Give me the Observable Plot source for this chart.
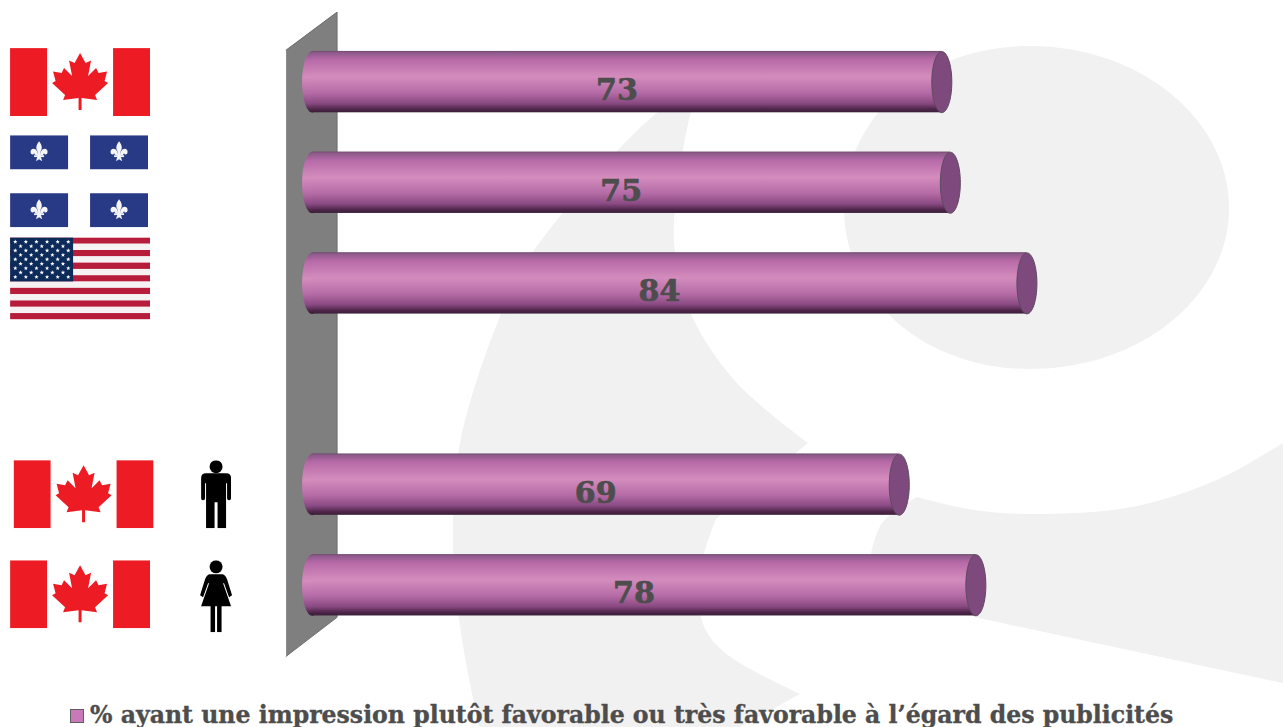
<!DOCTYPE html>
<html lang="fr">
<head>
<meta charset="utf-8">
<script src="https://cdn.jsdelivr.net/npm/d3@7"></script>
<script src="https://cdn.jsdelivr.net/npm/@observablehq/plot@0.6"></script>
<style>
  html, body { margin: 0; padding: 0; background: #fff; overflow: hidden; }
  #page { position: relative; width: 1283px; height: 727px; }
  #backdrop { position: absolute; left: 0; top: 0; }
  #chart { position: absolute; left: 0; top: 0; }
  #legend { position: absolute; left: 70px; top: 700px; height: 27px; line-height: 30px; white-space: nowrap;
    font-family: "DejaVu Serif", serif; font-weight: bold; font-size: 23.6px; color: #4d4d4d; -webkit-text-stroke: 0.35px #4d4d4d; }
  #legend i { display: inline-block; width: 12px; height: 12px; background: #c87ab8; border: 1.5px solid #5f5f5f; margin-right: 6px; vertical-align: 0; -webkit-text-stroke: 0; }
</style>
</head>
<body>
<div id="page">
  <svg id="backdrop" width="1283" height="727"></svg>
  <div id="chart"></div>
  <div id="legend"><i></i>% ayant une impression plutôt favorable ou très favorable à l’égard des publicités</div>
</div>
<script>
// ---- data ----
const categories = ["Canada", "Québec", "États-Unis", "Hommes (Canada)", "Femmes (Canada)"];
const rows = [0, 1, 2, 4, 5];
const labels = ["73", "75", "84", "69", "78"];
const barLengths = [74, 75, 84, 69, 78];
const wallX = [-3.05, 2.94, 2.94, -3.05];
const wallY = [-0.318, -0.696, 5.318, 5.706];

const table = categories.map((c, i) => ({category: c, row: rows[i], label: labels[i], length: barLengths[i]}));
const wall = wallX.map((x, i) => ({x, y: wallY[i]}));

// ---- flags and figures ----
const uri = (w, h, body) => "data:image/svg+xml," + encodeURIComponent(
  `<svg xmlns="http://www.w3.org/2000/svg" viewBox="0 0 ${w} ${h}" width="${w}" height="${h}" preserveAspectRatio="none">${body}</svg>`);

const canada = uri(140, 68, `<rect width="140" height="68" fill="#fff"/><rect width="37" height="68" fill="#ed1c24"/><rect x="103" width="37" height="68" fill="#ed1c24"/>
<polygon fill="#ed1c24" points="70,5 75.5,15 81,12.5 78,28 86,20 88.5,25 97,23.5 94.5,33 98,35 85,47 87,52 71.5,50 71.5,62 68.5,62 68.5,50 53,52 55,47 42,35 45.5,33 43,23.5 51.5,25 54,20 62,28 59,12.5 64.5,15"/>`);

const fleur = (cx, cy) => `<g transform="translate(${cx} ${cy})" fill="#f4f5f8">
<path d="M0-11C3-7 3.6-4 1.6-1L1.6 6L-1.6 6L-1.6-1C-3.6-4-3-7 0-11Z"/>
<path d="M2-1C4-5 9-4 8.5 0C8.3 2.5 5.5 3 5 1C4 3 2.5 3.5 1 3Z"/>
<path d="M-2-1C-4-5-9-4-8.5 0C-8.3 2.5-5.5 3-5 1C-4 3-2.5 3.5-1 3Z"/>
<rect x="-5" y="3" width="10" height="1.8"/><path d="M-2 5L2 5L3 9L0 7L-3 9Z"/></g>`;
const quebecPanes = [[0, 0], [80, 0], [0, 58], [80, 58]];
const quebec = uri(138, 92, `<rect width="138" height="92" fill="#fff"/>` + quebecPanes.map(([x, y]) =>
  `<rect x="${x}" y="${y}" width="58" height="34" fill="#283a85"/>${fleur(x + 29, y + 17)}`).join(""));

const star = (cx, cy, r) => {
  const p = d3.range(10).map(i => {
    const a = -Math.PI / 2 + i * Math.PI / 5, q = i % 2 ? r * 0.42 : r;
    return `${(cx + q * Math.cos(a)).toFixed(2)},${(cy + q * Math.sin(a)).toFixed(2)}`;
  });
  return `<polygon fill="#fff" points="${p.join(" ")}"/>`;
};
let stars = "";
for (let r = 0; r < 9; r++) {
  const n = r % 2 ? 5 : 6;
  for (let c = 0; c < n; c++) stars += star((r % 2 ? 10.5 : 5.2) + c * 10.6, 4.4 + r * 4.4, 2.3);
}
let stripes = "";
for (let i = 0; i < 13; i++) stripes += `<rect y="${(i * 82 / 13).toFixed(2)}" width="140" height="${(82 / 13 + 0.05).toFixed(2)}" fill="${i % 2 ? "#f6f1f3" : "#b71c3a"}"/>`;
const usa = uri(140, 82, `${stripes}<rect width="63" height="44" fill="#0c2a5a"/>${stars}`);

const man = uri(30, 68, `<circle cx="15" cy="6.5" r="6.5"/><path d="M5 13H25Q30 13 30 18V38Q30 40 28 40Q26 40 26 38V23H25V68H16.5V42H13.5V68H5V23H4V38Q4 40 2 40Q0 40 0 38V18Q0 13 5 13Z"/>`);
const woman = uri(32, 72, `<circle cx="16" cy="6.5" r="6.5"/><path d="M10 14H22Q25 14 27 19L32 35L29 37L24 23H23L31 46H21.5V72H17V46H15V72H10.5V46H1L9 23H8L3 37L0 35L5 19Q7 14 10 14Z"/>`);

// ---- faint logo behind the chart ----
const seg = pts => d3.line().curve(d3.curveCatmullRom)(pts);
const shape = (...segments) => segments.map((s, i) => i ? seg(s).replace(/^M/, "L") : seg(s)).join("") + "Z";
const logo = [
  shape(
    [[700, 90], [658, 112], [533, 252], [501, 314], [460, 443], [453, 541], [460, 626], [479, 727]],
    [[479, 727], [740, 727]],
    [[740, 727], [800, 694]],
    [[800, 694], [724, 652], [702, 621], [702, 563], [716, 519]],
    [[716, 519], [808, 443]],
    [[808, 443], [735, 381], [691, 314], [675, 252], [675, 208], [691, 112], [700, 90]]
  ),
  "M1030 46C1140 46 1229 119 1229 208C1229 297 1140 369 1030 369C922 369 844 297 844 208C844 119 922 46 1030 46Z",
  shape(
    [[1283, 443], [1219, 479], [1137, 506], [1045, 514], [974, 510], [917, 497]],
    [[917, 497], [882, 523], [871, 554]],
    [[871, 554], [974, 617]],
    [[974, 617], [1283, 683]]
  )
];
d3.select("#backdrop").selectAll("path").data(logo).join("path").attr("d", d => d).attr("fill", "#f1f1f1");

// ---- chart ----
const ellipse = {draw(ctx, size) {
  const ry = Math.sqrt(size / Math.PI), rx = ry / 3.05, k = 0.5523;
  ctx.moveTo(0, -ry);
  ctx.bezierCurveTo(k * rx, -ry, rx, -k * ry, rx, 0);
  ctx.bezierCurveTo(rx, k * ry, k * rx, ry, 0, ry);
  ctx.bezierCurveTo(-k * rx, ry, -rx, k * ry, -rx, 0);
  ctx.bezierCurveTo(-rx, -k * ry, -k * rx, -ry, 0, -ry);
  ctx.closePath();
}};

const flagX = -27.26, figureX = -11.28;
const image = (src, row, w, h, dy, x = flagX, dx = 0) =>
  Plot.image([{row}], {x: () => x, y: "row", src: () => src, width: w, height: h, dx, dy, preserveAspectRatio: "none"});

const HALF = 0.305;
const svg = Plot.plot({
  width: 1283,
  height: 699,
  margin: 0,
  style: {background: "transparent"},
  x: {axis: null, domain: [-36.61, 114.15]},
  y: {axis: null, domain: [-0.811, 6.135], reverse: true},
  marks: [
    Plot.line(wall, {x: "x", y: "y", fill: "#7f7f7f", stroke: "#6f6f6f", strokeWidth: 1, z: null}),
    Plot.dot(table, {x: () => 0, y: "row", r: 30.5, symbol: ellipse, fill: "url(#cyl)", stroke: "none"}),
    Plot.rect(table, {x1: () => 0, x2: "length", y1: d => d.row - HALF, y2: d => d.row + HALF, fill: "url(#cyl)"}),
    Plot.dot(table, {x: "length", y: "row", r: 30.5, symbol: ellipse, fill: "#7e4a7e", stroke: "#5b4a5c", strokeWidth: 1}),
    Plot.text(table, {x: d => d.length / 2, y: "row", text: "label", dx: -10, dy: 8.5, fontFamily: "DejaVu Serif", fontWeight: "bold", fontSize: 30, fill: "#4d4d4d", stroke: "#4d4d4d", strokeWidth: 0.7}),
    image(canada, 0, 140, 68, 0),
    image(quebec, 1, 138, 92, -1.5, flagX, -1),
    image(usa, 2, 140, 82, -5),
    image(canada, 4, 140, 68, 9.5, flagX, 3.5),
    image(canada, 5, 140, 68, 9),
    image(man, 4, 30, 68, 9.5, figureX),
    image(woman, 5, 32, 72, 11, figureX)
  ]
});

d3.select(svg).append("defs").html(`<linearGradient id="cyl" x1="0" y1="0" x2="0" y2="1">
  <stop offset="0" stop-color="#6e4a6c"/><stop offset="0.03" stop-color="#8f5a8c"/>
  <stop offset="0.14" stop-color="#b76aa8"/><stop offset="0.42" stop-color="#d48cbd"/>
  <stop offset="0.68" stop-color="#b56ba6"/><stop offset="0.85" stop-color="#8a4a83"/>
  <stop offset="0.95" stop-color="#4e2549"/><stop offset="1" stop-color="#3a2038"/>
</linearGradient>`);
document.getElementById("chart").appendChild(svg);
</script>
</body>
</html>
